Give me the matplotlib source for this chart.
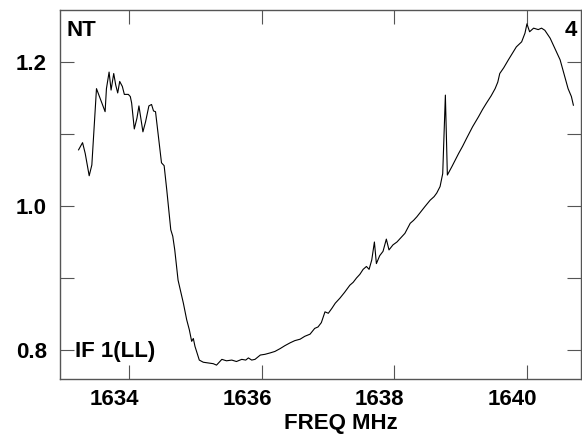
import numpy as np
import matplotlib
matplotlib.use("Agg")
import matplotlib.pyplot as plt
from matplotlib.ticker import MultipleLocator, FixedLocator, FixedFormatter
from matplotlib.transforms import ScaledTranslation

# spectrum (FREQ MHz, normalised amplitude)
freq = [
    1633.24, 1633.30, 1633.34, 1633.40, 1633.44, 1633.51, 1633.64, 1633.66,
    1633.70, 1633.73, 1633.77, 1633.80, 1633.83, 1633.86, 1633.90, 1633.93,
    1633.99, 1634.02, 1634.04, 1634.08, 1634.12, 1634.15, 1634.21, 1634.25,
    1634.30, 1634.34, 1634.37, 1634.40, 1634.44, 1634.49, 1634.53, 1634.57,
    1634.63, 1634.66, 1634.69, 1634.74, 1634.82, 1634.87, 1634.91, 1634.945,
    1634.97, 1634.995, 1635.06, 1635.12, 1635.20, 1635.27, 1635.32, 1635.40,
    1635.47, 1635.55, 1635.62, 1635.70, 1635.76, 1635.80, 1635.85, 1635.90,
    1635.98, 1636.05, 1636.13, 1636.20, 1636.28, 1636.35, 1636.43, 1636.50,
    1636.58, 1636.65, 1636.73, 1636.80, 1636.85, 1636.90, 1636.955, 1637.005,
    1637.06, 1637.11, 1637.18, 1637.25, 1637.33, 1637.38, 1637.43, 1637.48,
    1637.53, 1637.58, 1637.62, 1637.66, 1637.70, 1637.73, 1637.78, 1637.83,
    1637.88, 1637.92, 1637.98, 1638.04, 1638.09, 1638.16, 1638.24, 1638.29,
    1638.34, 1638.40, 1638.46, 1638.54, 1638.60, 1638.64, 1638.69, 1638.73,
    1638.77, 1638.80, 1638.87, 1638.97, 1639.03, 1639.09, 1639.18, 1639.27,
    1639.33, 1639.39, 1639.46, 1639.52, 1639.56, 1639.59, 1639.65, 1639.72,
    1639.78, 1639.84, 1639.92, 1639.97, 1640.00, 1640.04, 1640.10, 1640.17,
    1640.22, 1640.27, 1640.35, 1640.42, 1640.50, 1640.57, 1640.62, 1640.67,
    1640.70,
]
amplitude = [
    1.078, 1.088, 1.073, 1.042, 1.057, 1.163, 1.131, 1.163,
    1.186, 1.161, 1.184, 1.168, 1.157, 1.173, 1.166, 1.155,
    1.155, 1.152, 1.143, 1.107, 1.122, 1.139, 1.103, 1.117,
    1.139, 1.141, 1.132, 1.131, 1.099, 1.060, 1.056, 1.022,
    0.967, 0.958, 0.939, 0.897, 0.865, 0.842, 0.828, 0.812,
    0.816, 0.805, 0.786, 0.783, 0.782, 0.781, 0.779, 0.787,
    0.785, 0.786, 0.784, 0.787, 0.786, 0.789, 0.786, 0.787,
    0.793, 0.794, 0.796, 0.798, 0.802, 0.806, 0.810, 0.813,
    0.815, 0.819, 0.822, 0.830, 0.832, 0.838, 0.853, 0.851,
    0.858, 0.865, 0.872, 0.880, 0.890, 0.894, 0.900, 0.905,
    0.912, 0.916, 0.912, 0.925, 0.950, 0.920, 0.931, 0.937,
    0.954, 0.939, 0.946, 0.950, 0.955, 0.962, 0.976, 0.980,
    0.985, 0.992, 0.999, 1.008, 1.013, 1.018, 1.027, 1.045,
    1.154, 1.043, 1.055, 1.073, 1.083, 1.094, 1.110, 1.124,
    1.134, 1.143, 1.153, 1.163, 1.172, 1.184, 1.192, 1.203,
    1.212, 1.221, 1.228, 1.240, 1.253, 1.242, 1.247, 1.245,
    1.247, 1.244, 1.233, 1.219, 1.203, 1.180, 1.163, 1.152,
    1.140,
]

x_ticks = [1634, 1636, 1638, 1640]
y_ticks = [0.8, 0.9, 1.0, 1.1, 1.2]
y_tick_labels = ["0.8", "", "1.0", "", "1.2"]

plt.rcParams["font.family"] = ["Liberation Sans", "DejaVu Sans"]
plt.rcParams["font.weight"] = "bold"
plt.rcParams["font.size"] = 16

frame_color = "#555555"

fig = plt.figure(figsize=(5.82, 4.34), dpi=100)
ax = fig.add_axes([0.1031, 0.1267, 0.896, 0.8514])

ax.plot(freq, amplitude, color="black", linewidth=0.8)

ax.set_xlim(1632.96, 1640.822)
ax.set_ylim(0.7597, 1.2729)

ax.xaxis.set_major_locator(FixedLocator(x_ticks))
ax.yaxis.set_major_locator(FixedLocator(y_ticks))
ax.yaxis.set_major_formatter(FixedFormatter(y_tick_labels))

ax.tick_params(axis="both", direction="in", length=10, width=0.8,
               color=frame_color, top=True, right=True)
ax.tick_params(axis="x", pad=7.5)
ax.tick_params(axis="y", pad=9.5)

for spine in ax.spines.values():
    spine.set_color(frame_color)
    spine.set_linewidth(1.0)

# the x tick labels sit a little left of their ticks in the reference
shift = ScaledTranslation(-0.145, 0, fig.dpi_scale_trans)
for lbl in ax.get_xticklabels():
    lbl.set_transform(lbl.get_transform() + shift)

ax.text(0.0128, 0.9716, "NT", transform=ax.transAxes, ha="left", va="top")
ax.text(0.9914, 0.9716, "4", transform=ax.transAxes, ha="right", va="top")
ax.text(0.0297, 0.0595, "IF 1(LL)", transform=ax.transAxes,
        ha="left", va="baseline")

fig.text(341 / 582, 1 - 413 / 434, "FREQ MHz", ha="center", va="top")

fig.savefig("out.png", dpi=100)
